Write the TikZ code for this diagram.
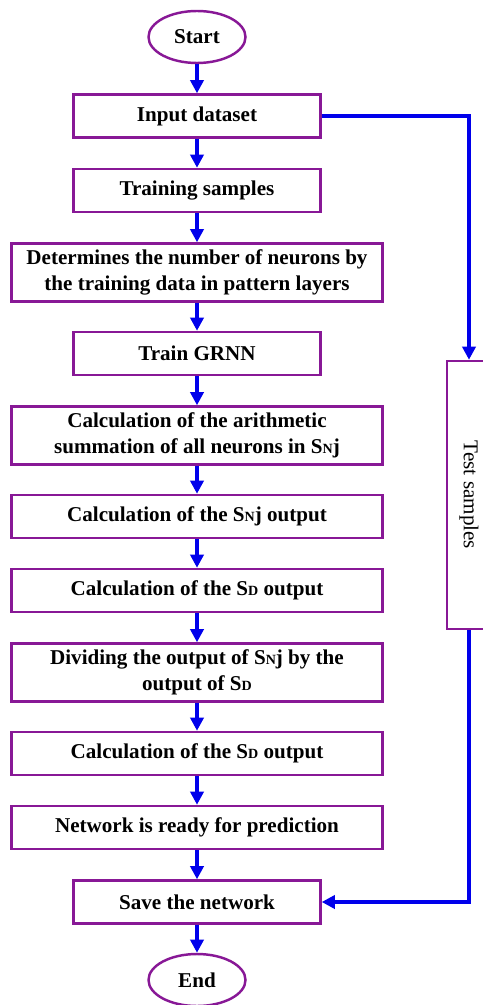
\documentclass[tikz,border=0pt]{standalone}
\usepackage{fontspec}
\setmainfont{Liberation Serif}
\usetikzlibrary{shapes.geometric,arrows.meta}
\definecolor{frame}{RGB}{136,24,150}
\definecolor{flowblue}{RGB}{0,0,235}
\newcommand{\smc}[1]{{\footnotesize #1}}

\begin{document}
\begin{tikzpicture}[
   box/.style={draw=frame,line width=1.4pt,align=center,inner sep=2pt,
               font=\bfseries\fontsize{12}{14.5}\selectfont},
   wide/.style={box,minimum width=7.42cm,minimum height=0.86cm},
   narrow/.style={box,minimum width=4.94cm,minimum height=0.86cm},
   term/.style={box,ellipse,minimum width=1.94cm,minimum height=1.04cm},
   flow/.style={draw=flowblue,line width=2pt},
   >={Triangle[length=7.5pt,width=7.5pt]}]
   \useasboundingbox (0,0) rectangle (9.64,-20.10);
   \node[term]   (start)   at (3.94, -0.74) {Start};
   \node[narrow] (input)   at (3.94, -2.32) {Input dataset};
   \node[narrow] (train)   at (3.94, -3.81) {Training samples};
   \node[wide,minimum height=1.16cm] (neurons) at (3.94, -5.45)
        {Determines the number of neurons by\\ the training data in pattern layers};
   \node[narrow] (grnn)    at (3.94, -7.07) {Train GRNN};
   \node[wide,minimum height=1.16cm] (sum) at (3.94, -8.71)
        {Calculation of the arithmetic\\ summation of all neurons in S\smc{N}j};
   \node[wide]   (snj)     at (3.94,-10.33) {Calculation of the S\smc{N}j output};
   \node[wide]   (sd)      at (3.94,-11.81) {Calculation of the S\smc{D} output};
   \node[wide,minimum height=1.16cm] (divide) at (3.94,-13.45)
        {Dividing the output of S\smc{N}j by the\\ output of S\smc{D}};
   \node[wide]   (sdtwo)   at (3.94,-15.07) {Calculation of the S\smc{D} output};
   \node[wide]   (ready)   at (3.94,-16.55) {Network is ready for prediction};
   \node[narrow] (save)    at (3.94,-18.04) {Save the network};
   \node[term]   (end)     at (3.94,-19.60) {End};
   \node[draw=frame,line width=1.4pt,rotate=-90,minimum width=5.36cm,minimum height=0.88cm,
         font=\fontsize{12}{14}\selectfont] (test) at (9.38,-9.90) {Test samples};
   \draw[flow,->] (start)   -- (input);
   \draw[flow,->] (input)   -- (train);
   \draw[flow,->] (train)   -- (neurons);
   \draw[flow,->] (neurons) -- (grnn);
   \draw[flow,->] (grnn)    -- (sum);
   \draw[flow,->] (sum)     -- (snj);
   \draw[flow,->] (snj)     -- (sd);
   \draw[flow,->] (sd)      -- (divide);
   \draw[flow,->] (divide)  -- (sdtwo);
   \draw[flow,->] (sdtwo)   -- (ready);
   \draw[flow,->] (ready)   -- (save);
   \draw[flow,->] (save)    -- (end);
   \draw[flow,->] (input.east) -| (test.west);
   \draw[flow,->] (test.east)  |- (save.east);
\end{tikzpicture}
\end{document}
